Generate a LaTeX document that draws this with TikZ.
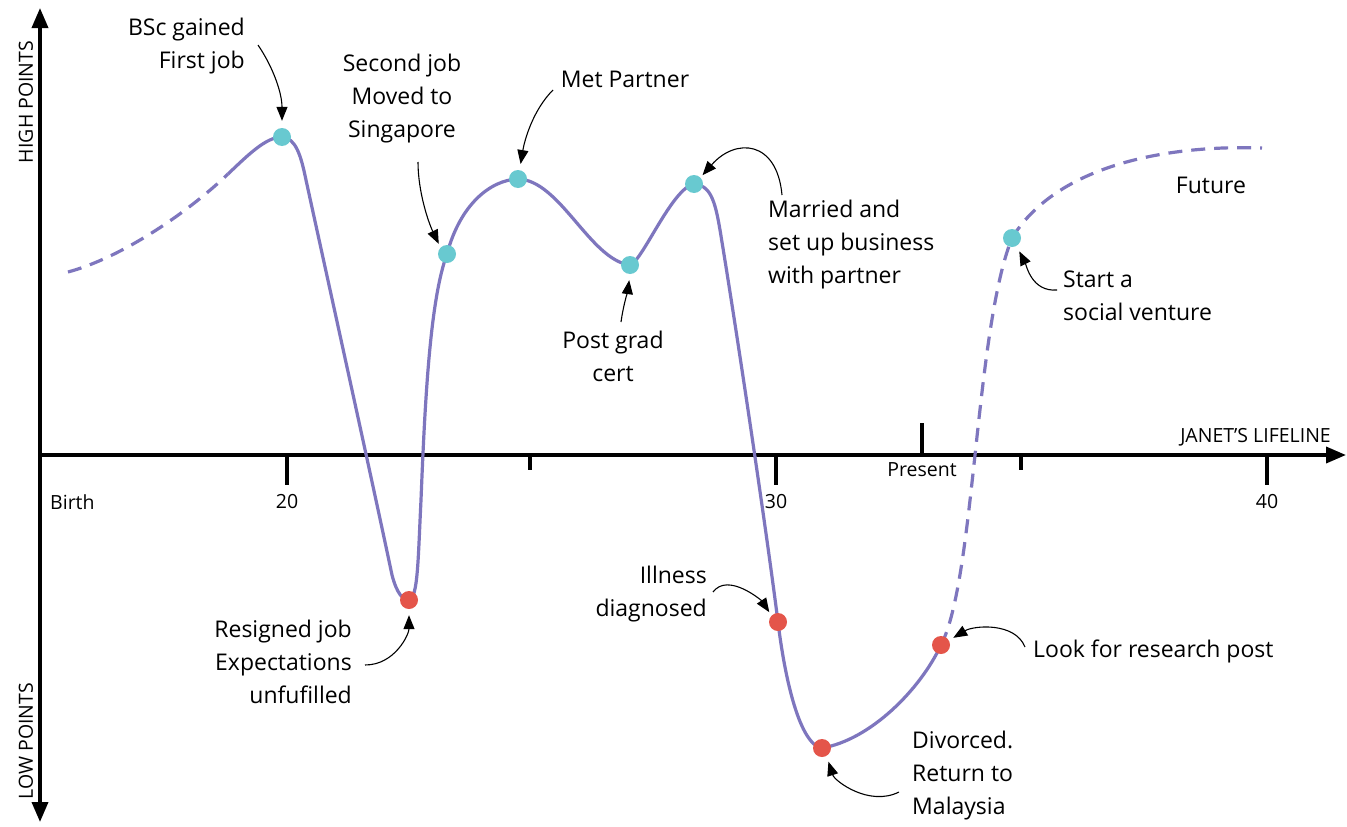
\documentclass[tikz,border=0pt]{standalone}
\usepackage{fontspec}
\setmainfont{Open Sans}
\newfontfamily\handfont{Open Sans}
\usetikzlibrary{arrows.meta,positioning}
\definecolor{lifec}{HTML}{7E76BE}
\definecolor{highc}{HTML}{68C9D0}
\definecolor{lowc}{HTML}{E4554A}
\tikzset{bigtip/.tip={Triangle[length=20pt,width=16pt]}}

\begin{document}
\begin{tikzpicture}[x=1pt, y=-1pt,
  axis/.style={line width=3.6pt, -bigtip},
  life/.style={draw=lifec, line width=3.2pt},
  future/.style={life, dash pattern=on 14pt off 9pt},
  hi/.style={circle, fill=highc, minimum size=18pt, inner sep=0pt},
  lo/.style={hi, fill=lowc},
  note/.style={font=\handfont\fontsize{23}{33}\selectfont, inner sep=0pt},
  ar/.style={-{Triangle[length=14pt,width=11pt]}, line width=1.1pt},
  lab/.style={font=\fontsize{19.5}{23}\selectfont, inner sep=0pt}]
\fill[white] (0,0) rectangle (1347,827);
\useasboundingbox (0,0) rectangle (1347,827);

% axes
\draw[axis, bigtip-bigtip] (40,822) -- (40,8);
\draw[axis] (40,455) -- (1346,455);
\foreach \x/\y in {287/485, 530/470, 776/485, 1021/470, 1267/485}
  \draw[line width=3.6pt] (\x,455) -- (\x,\y);
\draw[line width=3.6pt] (922,455) -- (922,423);
\node[lab, anchor=west] (birth) at (50,502) {Birth};
\foreach \x/\t in {287/20, 776/30, 1267/40}
  \node[lab] (age\t) at (\x,502) {\t};
\node[lab] (present) at (922,470) {Present};
\node[lab, anchor=east] (lifeline) at (1331,437) {JANET’S LIFELINE};
\node[lab, rotate=90] (high) at (26,102) {HIGH POINTS};
\node[lab, rotate=90] (low) at (26,741) {LOW POINTS};

% the lifeline
\draw[future] (68,272) .. controls (120,258) and (185,215) .. (228,174);
\draw[life] (228,174) .. controls (248,155) and (266,137) .. (282,137)
  .. controls (296,138) and (301,156) .. (306,180)
  .. controls (330,290) and (372,480) .. (392,575)
  .. controls (397,594) and (403,600) .. (409,600)
  .. controls (418,598) and (418,560) .. (421,500)
  .. controls (425,400) and (430,300) .. (447,254)
  .. controls (460,205) and (490,180) .. (518,179)
  .. controls (560,180) and (590,260) .. (630,265)
  .. controls (642,262) and (672,188) .. (694,184)
  .. controls (710,185) and (715,200) .. (720,230)
  .. controls (735,320) and (765,520) .. (778,622)
  .. controls (785,680) and (800,745) .. (822,748)
  .. controls (870,740) and (920,690) .. (941,645);
\draw[future] (941,645) .. controls (975,580) and (975,330) .. (1012,238)
  .. controls (1060,160) and (1180,145) .. (1262,148);

% events
\node[hi] (bsc) at (282,137) {};
\node[lo] (resign) at (409,600) {};
\node[hi] (singapore) at (447,254) {};
\node[hi] (partner) at (518,179) {};
\node[hi] (postgrad) at (630,265) {};
\node[hi] (married) at (694,184) {};
\node[lo] (illness) at (778,622) {};
\node[lo] (divorced) at (822,748) {};
\node[lo] (research) at (941,645) {};
\node[hi] (venture) at (1012,238) {};

% notes
\node[note, align=right, anchor=east] (bsc-t) at (245,46) {BSc gained\\First job};
\node[note, align=center] (singapore-t) at (402,99) {Second job\\Moved to\\Singapore};
\node[note] (partner-t) at (625,79) {Met Partner};
\node[note, align=left, anchor=west] (married-t) at (768,245) {Married and\\set up business\\with partner};
\node[note, align=center] (postgrad-t) at (613,356) {Post grad\\cert};
\node[note, align=left, anchor=west] (venture-t) at (1063,296) {Start a\\social venture};
\node[note] (future-t) at (1211,185) {Future};
\node[note, align=right, anchor=east] (resign-t) at (352,662) {Resigned job\\Expectations\\unfufilled};
\node[note, align=right, anchor=east] (illness-t) at (707,594) {Illness\\diagnosed};
\node[note, align=left, anchor=west] (divorced-t) at (912,776) {Divorced.\\Return to\\Malaysia};
\node[note, anchor=west] (research-t) at (1033,651) {Look for research post};

\coordinate (bsc-a) at (258,45);
\coordinate (singapore-a) at (418,162);
\coordinate (partner-a) at (553,90);
\coordinate (married-a) at (782,195);
\coordinate (postgrad-a) at (621,322);
\coordinate (venture-a) at (1057,290);
\coordinate (resign-a) at (365,665);
\coordinate (illness-a) at (713,592);
\coordinate (divorced-a) at (899,792);
\coordinate (research-a) at (1025,647);

\draw[ar, shorten >=7pt] (bsc-a) .. controls +(15,22) and +(0,-35) .. (bsc.north);
\draw[ar, shorten >=4pt] (singapore-a) .. controls +(0,30) and +(-12,-25) .. (singapore.north west);
\draw[ar, shorten >=6pt] (partner-a) .. controls +(-20,20) and +(5,-30) .. (partner.80);
\draw[ar, shorten >=3pt] (married-a) .. controls +(-5,-55) and +(35,-40) .. (married.north east);
\draw[ar, shorten >=6pt] (postgrad-a) .. controls +(2,-15) and +(-2,15) .. (postgrad.south);
\draw[ar, shorten >=6pt] (venture-a) .. controls +(-25,2) and +(10,20) .. (venture.-60);
\draw[ar, shorten >=6pt] (resign-a) .. controls +(30,0) and +(0,25) .. (resign.south);
\draw[ar, shorten >=4pt] (illness-a) .. controls +(15,-20) and +(-10,-15) .. (illness.north west);
\draw[ar, shorten >=6pt] (divorced-a) .. controls +(-30,15) and +(8,25) .. (divorced.-60);
\draw[ar, shorten >=5pt] (research-a) .. controls +(-10,-25) and +(25,-15) .. (research.30);
\end{tikzpicture}
\end{document}
